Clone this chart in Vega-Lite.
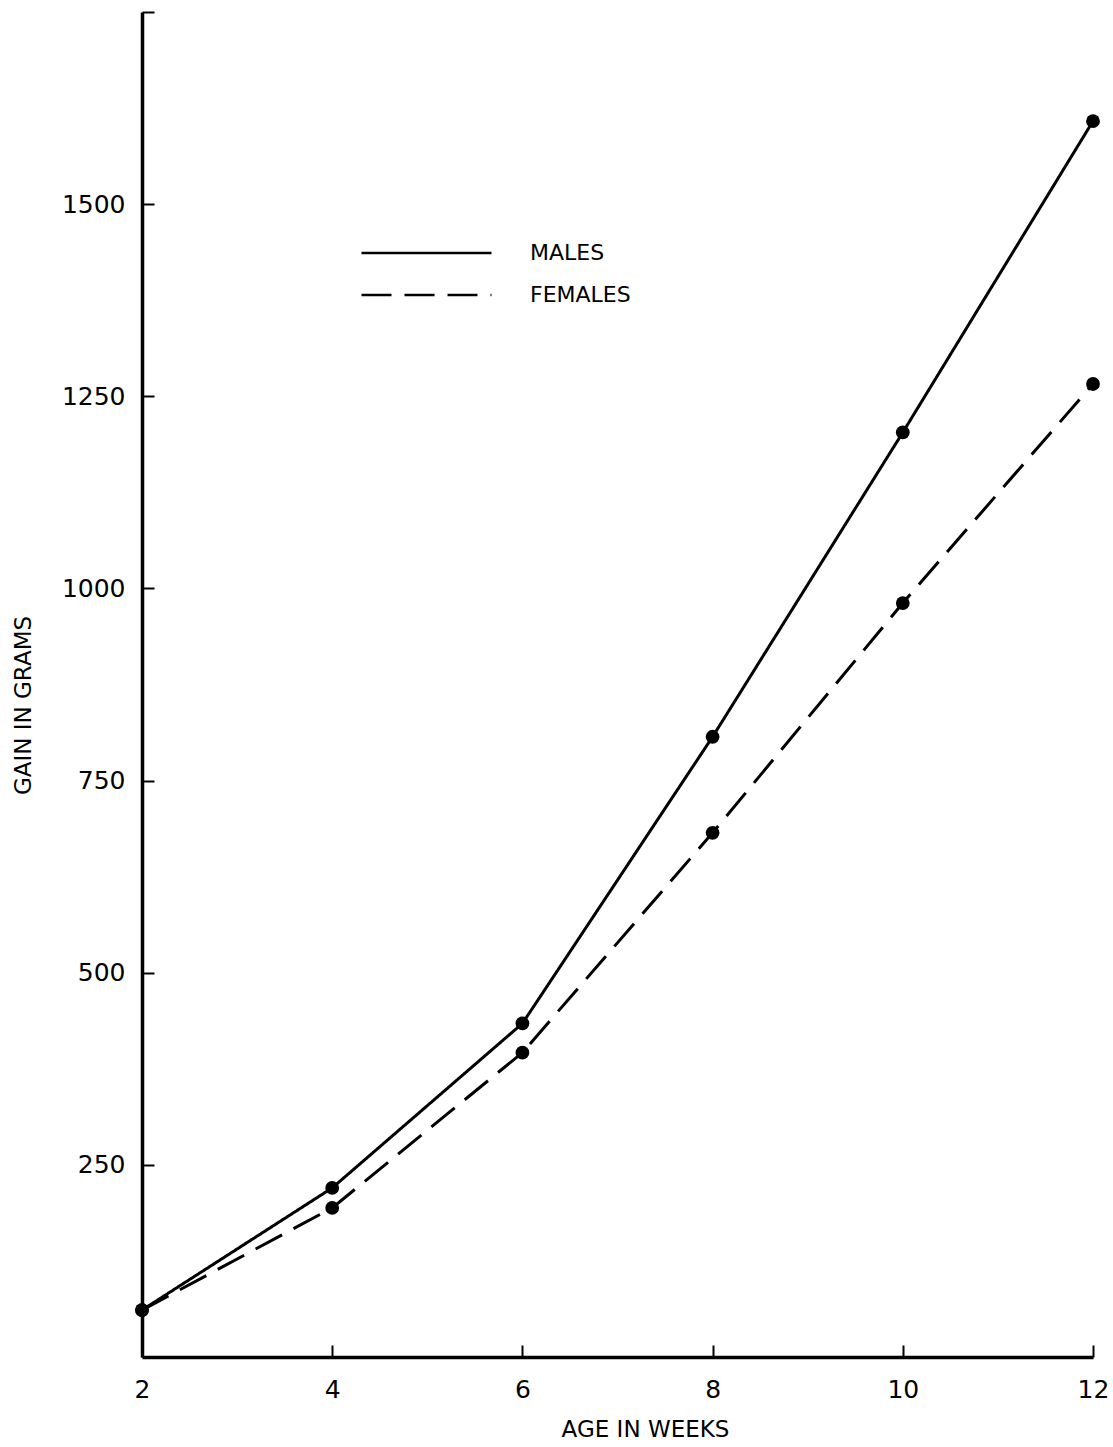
{
  "$schema": "https://vega.github.io/schema/vega-lite/v6.json",
  "width": 951,
  "height": 1345,
  "autosize": {"type": "none"},
  "padding": {"left": 142, "top": 12, "right": 20, "bottom": 90},
  "background": "white",
  "config": {
    "view": {"stroke": null},
    "font": "DejaVu Sans",
    "axis": {
      "grid": false,
      "domainColor": "black",
      "domainWidth": 3.5,
      "tickColor": "black",
      "tickWidth": 2,
      "tickSize": -12,
      "labelColor": "black",
      "labelFontSize": 25,
      "labelFlush": false,
      "titleColor": "black",
      "titleFontSize": 23,
      "titleFontWeight": "normal"
    }
  },
  "data": {
    "values": [
      {"age": 2, "gain": 61, "sex": "MALES"},
      {"age": 4, "gain": 220, "sex": "MALES"},
      {"age": 6, "gain": 434, "sex": "MALES"},
      {"age": 8, "gain": 807, "sex": "MALES"},
      {"age": 10, "gain": 1203, "sex": "MALES"},
      {"age": 12, "gain": 1608, "sex": "MALES"},
      {"age": 2, "gain": 61, "sex": "FEMALES"},
      {"age": 4, "gain": 194, "sex": "FEMALES"},
      {"age": 6, "gain": 396, "sex": "FEMALES"},
      {"age": 8, "gain": 682, "sex": "FEMALES"},
      {"age": 10, "gain": 981, "sex": "FEMALES"},
      {"age": 12, "gain": 1266, "sex": "FEMALES"}
    ]
  },
  "encoding": {
    "x": {
      "field": "age",
      "type": "quantitative",
      "scale": {"domain": [2, 12], "nice": false, "zero": false},
      "axis": {
        "title": "AGE IN WEEKS",
        "values": [2, 4, 6, 8, 10, 12],
        "labelPadding": 32,
        "titlePadding": 16,
        "titleX": 503
      }
    },
    "y": {
      "field": "gain",
      "type": "quantitative",
      "scale": {"domain": [0, 1750], "nice": false},
      "axis": {
        "title": "GAIN IN GRAMS",
        "values": [250, 500, 750, 1000, 1250, 1500, 1750],
        "format": "d",
        "labelExpr": "datum.value == 1750 ? '' : datum.label",
        "labelPadding": 29,
        "titlePadding": 26,
        "titleY": 693
      }
    }
  },
  "layer": [
    {
      "mark": {"type": "line", "color": "black", "strokeWidth": 3},
      "encoding": {
        "strokeDash": {
          "field": "sex",
          "type": "nominal",
          "scale": {"domain": ["MALES", "FEMALES"], "range": [[1, 0], [30, 13]]},
          "legend": {
            "title": null,
            "orient": "none",
            "legendX": 218,
            "legendY": 226,
            "clipHeight": 30,
            "rowPadding": 12,
            "symbolType": "stroke",
            "symbolSize": 16900,
            "symbolStrokeWidth": 2.5,
            "symbolStrokeColor": "black",
            "labelFontSize": 22,
            "labelColor": "black",
            "labelOffset": 37
          }
        }
      }
    },
    {
      "mark": {"type": "point", "filled": true, "color": "black", "size": 190, "opacity": 1},
      "encoding": {"detail": {"field": "sex"}}
    }
  ]
}
